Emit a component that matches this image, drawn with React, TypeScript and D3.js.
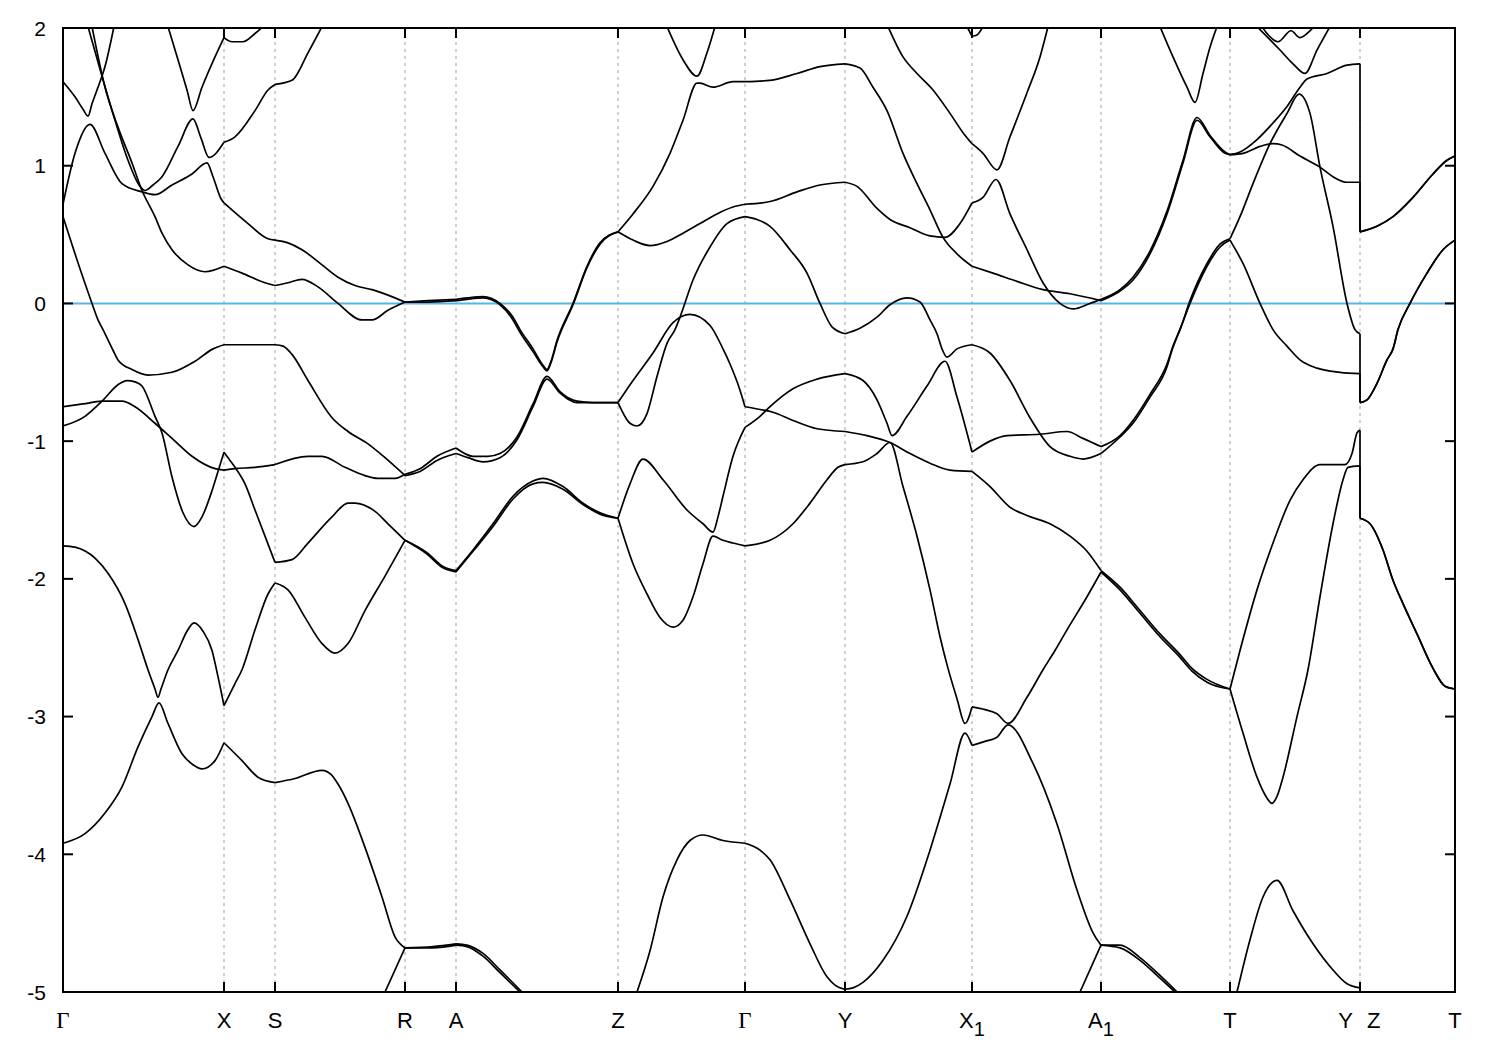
import React from "react";
import * as d3 from "d3";

type Pt = [number, number];

// ---- k-path (path-length units) and axis data ----
const kPathLabels = ["Γ", "X", "S", "R", "A", "Z", "Γ", "Y", "X1", "A1", "T", "Y|Z", "T"];
const kPathPositions = [0, 161, 212, 342, 393, 555, 682, 782, 909, 1038, 1167, 1297, 1392];
const energyTicks = [2, 1, 0, -1, -2, -3, -4, -5];
const energyDomain: [number, number] = [-5, 2];
const fermiLevel = 0;

// ---- bands (k, E in eV) ----
const band1a: Pt[] = [[0,-3.92],[22,-3.85],[42,-3.70],[59,-3.51],[75,-3.22],[89,-3.00],[96,-2.90],[105,-3.05],[119,-3.27],[130,-3.35],[139,-3.38],[152,-3.32],[161,-3.19],[179,-3.32],[195,-3.44],[212,-3.48],[232,-3.45],[259,-3.39],[268,-3.42],[275,-3.49],[285,-3.63],[302,-3.95],[319,-4.31],[332,-4.60],[342,-4.68],[370,-4.67],[393,-4.65],[404,-4.66],[420,-4.72],[437,-4.84],[459,-5.0]];
const band1b: Pt[] = [[574,-5.0],[587,-4.70],[600,-4.31],[614,-4.04],[627,-3.90],[640,-3.86],[660,-3.90],[682,-3.92],[697,-3.97],[707,-4.04],[727,-4.33],[747,-4.65],[764,-4.89],[772,-4.95],[782,-4.98],[790,-4.97],[800,-4.93],[820,-4.77],[844,-4.45],[867,-3.97],[887,-3.49],[902,-3.12],[909,-3.21],[922,-3.18],[934,-3.15],[945,-3.06],[970,-3.34],[994,-3.78],[1014,-4.26],[1030,-4.57],[1038,-4.66],[1057,-4.66],[1077,-4.75],[1097,-4.88],[1114,-5.0]];
const band1c: Pt[] = [[1174,-5.0],[1187,-4.62],[1200,-4.31],[1214,-4.19],[1230,-4.41],[1250,-4.65],[1270,-4.84],[1284,-4.94],[1297,-4.97]];
const band2a: Pt[] = [[322,-5.0],[342,-4.68],[370,-4.68],[393,-4.66],[404,-4.67],[420,-4.74],[437,-4.86],[457,-5.0]];
const band2b: Pt[] = [[1017,-5.0],[1038,-4.66],[1057,-4.68],[1077,-4.77],[1097,-4.90],[1112,-5.0]];

const band3: Pt[] = [[0,-1.76],[12,-1.77],[32,-1.85],[45,-1.96],[62,-2.18],[75,-2.44],[85,-2.66],[92,-2.80],[95,-2.86],[98,-2.80],[105,-2.66],[115,-2.52],[124,-2.38],[131,-2.32],[140,-2.38],[149,-2.52],[155,-2.71],[161,-2.92],[172,-2.76],[179,-2.66],[192,-2.37],[205,-2.11],[212,-2.03],[225,-2.08],[242,-2.28],[259,-2.47],[272,-2.54],[285,-2.47],[302,-2.23],[322,-1.98],[342,-1.72],[364,-1.81],[380,-1.91],[393,-1.94],[410,-1.79],[430,-1.60],[450,-1.40],[470,-1.29],[480,-1.27],[500,-1.33],[520,-1.45],[537,-1.52],[555,-1.56],[570,-1.89],[584,-2.11],[597,-2.28],[610,-2.35],[620,-2.30],[630,-2.13],[640,-1.89],[650,-1.69],[660,-1.72],[670,-1.74],[682,-1.76],[707,-1.72],[730,-1.60],[747,-1.45],[764,-1.28],[775,-1.19],[782,-1.17],[800,-1.15],[814,-1.09],[827,-1.01],[840,-1.33],[854,-1.69],[867,-2.08],[877,-2.42],[885,-2.65],[894,-2.87],[902,-3.05],[909,-2.93],[922,-2.95],[934,-2.98],[945,-3.05],[964,-2.86],[980,-2.66],[992,-2.52],[1004,-2.37],[1024,-2.13],[1038,-1.95],[1057,-2.08],[1077,-2.25],[1097,-2.42],[1117,-2.57],[1129,-2.67],[1144,-2.75],[1167,-2.80],[1177,-2.52],[1194,-2.08],[1210,-1.74],[1227,-1.43],[1240,-1.28],[1257,-1.17],[1270,-1.17],[1282,-1.17],[1289,-1.09],[1294,-0.94],[1297,-0.92],[1297,-1.56],[1307,-1.60],[1320,-1.79],[1330,-2.01],[1340,-2.18],[1354,-2.40],[1370,-2.65],[1382,-2.78],[1392,-2.80]];

const band4: Pt[] = [[0,-0.89],[22,-0.82],[39,-0.71],[55,-0.59],[64,-0.56],[72,-0.57],[79,-0.60],[92,-0.82],[99,-0.94],[109,-1.26],[120,-1.52],[131,-1.62],[139,-1.55],[149,-1.36],[155,-1.22],[161,-1.08],[166,-1.13],[172,-1.19],[182,-1.31],[192,-1.50],[202,-1.69],[212,-1.88],[229,-1.86],[245,-1.74],[269,-1.55],[285,-1.45],[292,-1.45],[312,-1.51],[325,-1.60],[342,-1.72],[364,-1.82],[380,-1.92],[393,-1.95],[410,-1.80],[430,-1.62],[450,-1.42],[470,-1.31],[480,-1.30],[500,-1.35],[520,-1.46],[537,-1.53],[555,-1.56],[567,-1.31],[580,-1.13],[600,-1.28],[624,-1.50],[640,-1.60],[650,-1.66],[655,-1.55],[660,-1.40],[670,-1.11],[682,-0.90],[697,-0.82],[707,-0.75],[730,-0.62],[754,-0.55],[782,-0.51],[800,-0.56],[814,-0.70],[824,-0.87],[829,-0.96],[844,-0.82],[864,-0.60],[882,-0.42],[894,-0.68],[909,-1.08],[927,-1.00],[944,-0.96],[977,-0.95],[1004,-0.93],[1020,-0.98],[1038,-1.04],[1057,-0.96],[1070,-0.85],[1087,-0.66],[1104,-0.44],[1110,-0.31],[1118,-0.17],[1127,0.02],[1144,0.29],[1157,0.43],[1167,0.47],[1177,0.63],[1190,0.87],[1207,1.16],[1224,1.38],[1236,1.52],[1247,1.38],[1257,0.99],[1270,0.56],[1284,0.0],[1292,-0.19],[1297,-0.22],[1297,-0.72],[1304,-0.70],[1314,-0.58],[1324,-0.41],[1330,-0.33],[1335,-0.19],[1347,0.0],[1364,0.22],[1380,0.39],[1392,0.46]];

const band5: Pt[] = [[0,-0.75],[20,-0.73],[39,-0.71],[59,-0.71],[72,-0.75],[92,-0.87],[109,-0.98],[129,-1.11],[152,-1.20],[161,-1.21],[172,-1.20],[192,-1.19],[212,-1.17],[245,-1.11],[259,-1.11],[282,-1.19],[302,-1.25],[315,-1.27],[332,-1.27],[342,-1.24],[357,-1.20],[374,-1.11],[393,-1.05],[410,-1.11],[425,-1.11],[437,-1.09],[454,-0.97],[470,-0.73],[484,-0.53],[497,-0.64],[514,-0.71],[530,-0.72],[555,-0.72],[570,-0.56],[590,-0.36],[610,-0.14],[627,-0.08],[647,-0.16],[660,-0.33],[667,-0.44],[677,-0.63],[682,-0.75],[697,-0.77],[710,-0.79],[730,-0.85],[754,-0.91],[782,-0.93],[804,-0.96],[827,-1.01],[847,-1.09],[867,-1.16],[887,-1.21],[909,-1.22],[927,-1.33],[947,-1.48],[964,-1.54],[987,-1.60],[1007,-1.69],[1024,-1.80],[1038,-1.94],[1057,-2.06],[1077,-2.23],[1097,-2.40],[1117,-2.55],[1129,-2.65],[1144,-2.73],[1167,-2.80],[1180,-3.12],[1194,-3.44],[1203,-3.58],[1209,-3.63],[1214,-3.58],[1220,-3.44],[1234,-3.00],[1245,-2.66],[1257,-2.13],[1270,-1.60],[1280,-1.28],[1285,-1.19],[1297,-1.18],[1297,-1.56],[1307,-1.60],[1320,-1.79],[1330,-2.01],[1340,-2.18],[1354,-2.40],[1370,-2.65],[1382,-2.78],[1392,-2.80]];

const band6: Pt[] = [[0,0.63],[12,0.36],[29,0.0],[35,-0.12],[40,-0.19],[50,-0.34],[55,-0.41],[69,-0.48],[85,-0.52],[109,-0.50],[132,-0.42],[150,-0.33],[161,-0.30],[192,-0.30],[212,-0.30],[220,-0.31],[229,-0.37],[245,-0.56],[269,-0.83],[285,-0.93],[305,-1.02],[322,-1.12],[342,-1.25],[357,-1.22],[374,-1.14],[393,-1.09],[405,-1.12],[420,-1.15],[437,-1.12],[454,-0.99],[470,-0.75],[484,-0.55],[497,-0.65],[514,-0.72],[530,-0.72],[555,-0.72],[567,-0.87],[574,-0.89],[584,-0.80],[594,-0.53],[604,-0.29],[612,-0.19],[617,-0.10],[630,0.17],[647,0.41],[664,0.58],[682,0.63],[707,0.56],[727,0.39],[744,0.22],[757,0.0],[769,-0.17],[782,-0.22],[797,-0.18],[814,-0.10],[827,-0.01],[844,0.04],[857,0.01],[867,-0.12],[874,-0.22],[879,-0.33],[884,-0.39],[894,-0.33],[909,-0.30],[927,-0.36],[947,-0.56],[967,-0.83],[987,-1.04],[1007,-1.11],[1020,-1.13],[1038,-1.09],[1057,-0.97],[1070,-0.87],[1087,-0.68],[1104,-0.46],[1109,-0.34],[1117,-0.19],[1127,0.0],[1144,0.27],[1157,0.41],[1167,0.46],[1180,0.29],[1197,0.0],[1210,-0.19],[1224,-0.31],[1237,-0.41],[1254,-0.47],[1277,-0.50],[1297,-0.51],[1297,-0.72],[1304,-0.70],[1314,-0.58],[1324,-0.41],[1330,-0.33],[1335,-0.19],[1347,0.0],[1364,0.22],[1380,0.39],[1392,0.46]];

const band7: Pt[] = [[29,2.01],[42,1.57],[55,1.28],[69,1.02],[79,0.82],[92,0.63],[99,0.51],[109,0.39],[125,0.28],[142,0.23],[161,0.27],[179,0.22],[202,0.15],[212,0.13],[225,0.15],[239,0.175],[255,0.12],[275,0.0],[299,-0.12],[309,-0.12],[325,-0.05],[342,0.01],[365,0.01],[393,0.02],[404,0.03],[420,0.04],[437,-0.01],[450,-0.12],[457,-0.21],[470,-0.35],[480,-0.46],[484,-0.49],[488,-0.43],[494,-0.28],[510,-0.01],[524,0.26],[537,0.43],[555,0.52],[570,0.46],[587,0.42],[604,0.45],[620,0.51],[637,0.58],[654,0.65],[670,0.70],[682,0.72],[707,0.74],[734,0.81],[757,0.86],[782,0.88],[794,0.85],[814,0.69],[827,0.61],[847,0.55],[867,0.49],[882,0.48],[897,0.58],[909,0.73],[920,0.77],[933,0.90],[947,0.65],[964,0.39],[980,0.15],[997,0.0],[1010,-0.04],[1027,0.0],[1038,0.03],[1057,0.10],[1070,0.19],[1087,0.38],[1104,0.67],[1120,1.04],[1134,1.35],[1147,1.22],[1162,1.10],[1167,1.08],[1180,1.09],[1197,1.14],[1210,1.16],[1219,1.15],[1237,1.07],[1257,0.99],[1270,0.92],[1284,0.88],[1297,0.88],[1297,0.52],[1314,0.56],[1330,0.63],[1350,0.77],[1370,0.94],[1384,1.04],[1392,1.07]];

const band8: Pt[] = [[0,0.72],[12,1.09],[27,1.30],[42,1.09],[59,0.87],[79,0.81],[92,0.79],[109,0.86],[129,0.94],[144,1.02],[150,0.92],[158,0.76],[161,0.73],[185,0.58],[205,0.47],[212,0.46],[225,0.44],[239,0.39],[259,0.28],[275,0.19],[292,0.13],[309,0.10],[325,0.06],[342,0.01],[365,0.02],[393,0.03],[404,0.04],[420,0.05],[437,0.0],[450,-0.10],[457,-0.19],[470,-0.33],[480,-0.45],[484,-0.48],[488,-0.42],[494,-0.27],[510,0.0],[524,0.27],[537,0.44],[555,0.52],[570,0.65],[590,0.85],[607,1.09],[620,1.33],[634,1.60],[637,1.60],[650,1.57],[670,1.61],[682,1.61],[707,1.62],[734,1.67],[757,1.72],[782,1.74],[797,1.71],[810,1.57],[824,1.40],[840,1.09],[854,0.87],[867,0.68],[880,0.48],[894,0.36],[909,0.27],[930,0.22],[954,0.16],[980,0.10],[1007,0.07],[1038,0.02],[1057,0.09],[1070,0.17],[1087,0.36],[1104,0.65],[1120,1.02],[1134,1.33],[1147,1.21],[1162,1.09],[1167,1.08],[1177,1.10],[1194,1.19],[1210,1.31],[1224,1.43],[1237,1.57],[1244,1.63],[1264,1.67],[1284,1.73],[1297,1.74],[1297,0.52],[1314,0.56],[1330,0.63],[1350,0.77],[1370,0.94],[1384,1.04],[1392,1.07]];

const upper1: Pt[] = [[0,1.61],[12,1.50],[20,1.41],[25,1.36],[29,1.45],[34,1.55],[42,1.72],[51,2.01]];
const upper2: Pt[] = [[25,2.01],[39,1.65],[52,1.33],[65,1.04],[77,0.85],[82,0.82],[90,0.86],[99,0.92],[115,1.14],[130,1.34],[138,1.20],[146,1.06],[161,1.17],[172,1.21],[192,1.40],[205,1.55],[212,1.59],[229,1.62],[245,1.82],[259,2.01]];
const upper3: Pt[] = [[105,2.01],[115,1.77],[124,1.55],[130,1.40],[139,1.57],[152,1.79],[161,1.93],[169,1.90],[180,1.90],[192,1.96],[200,2.01]];
const upper4: Pt[] = [[604,2.01],[620,1.77],[634,1.65],[644,1.82],[652,2.01]];
const upper5: Pt[] = [[825,2.01],[840,1.79],[854,1.67],[870,1.55],[887,1.38],[900,1.24],[909,1.16],[920,1.09],[934,0.97],[947,1.21],[964,1.53],[977,1.79],[985,2.01]];
const upper6: Pt[] = [[904,2.01],[909,1.94],[914,1.95],[920,2.01]];
const upper7: Pt[] = [[1097,2.01],[1110,1.79],[1124,1.57],[1132,1.46],[1140,1.67],[1147,1.86],[1154,2.01]];
const upper8: Pt[] = [[1194,2.01],[1217,1.84],[1230,1.74],[1242,1.67],[1254,1.84],[1267,2.01]];
const upper9: Pt[] = [[1199,2.01],[1204,1.96],[1215,1.90],[1228,1.98],[1237,1.93],[1247,1.98],[1251,2.01]];

const allBands: Pt[][] = [band1a, band1b, band1c, band2a, band2b, band3, band4, band5, band6, band7, band8, upper1, upper2, upper3, upper4, upper5, upper6, upper7, upper8, upper9];

// ---- rendering ----
const symSet = new Set(kPathPositions);

function splitBand(pts: Pt[]) {
  const pieces: Pt[][] = [];
  const verticals: [Pt, Pt][] = [];
  let cur: Pt[] = [pts[0]];
  for (let i = 1; i < pts.length; i++) {
    const p = pts[i];
    const prev = pts[i - 1];
    if (p[0] === prev[0]) {
      pieces.push(cur);
      verticals.push([prev, p]);
      cur = [p];
      continue;
    }
    cur.push(p);
    if (symSet.has(p[0]) && i < pts.length - 1 && pts[i + 1][0] !== p[0]) {
      pieces.push(cur);
      cur = [p];
    }
  }
  pieces.push(cur);
  return { pieces: pieces.filter((q) => q.length > 1), verticals };
}

const FONT = "'Liberation Sans', Arial, Helvetica, sans-serif";
const SERIF = "'Liberation Serif', 'Times New Roman', serif";

export default function App() {
  const W = 1500;
  const H = 1050;
  const left = 63, right = 1455, top = 28, bottom = 992;
  const kExtent = d3.extent(kPathPositions) as [number, number];
  const x = d3.scaleLinear().domain(kExtent).range([left, right]);
  const y = d3.scaleLinear().domain(energyDomain).range([bottom, top]);
  const line = d3
    .line<Pt>()
    .x((d) => x(d[0]))
    .y((d) => y(d[1]))
    .curve(d3.curveMonotoneX);
  const straight = d3
    .line<Pt>()
    .x((d) => x(d[0]))
    .y((d) => y(d[1]));

  const paths: string[] = [];
  const verts: string[] = [];
  allBands.forEach((b) => {
    const { pieces, verticals } = splitBand(b);
    pieces.forEach((p) => paths.push(line(p) || ""));
    verticals.forEach((v) => verts.push(straight(v) || ""));
  });

  const interior = kPathPositions.filter((k, i) => i > 0 && i < kPathPositions.length - 1);
  const labelY = 1028;

  const renderLabel = (lab: string, k: number, i: number) => {
    const cx = x(k);
    if (lab === "Γ") {
      return (
        <text key={i} x={cx} y={labelY} textAnchor="middle" fontFamily={SERIF} fontSize={23}>
          Γ
        </text>
      );
    }
    if (lab === "Y|Z") {
      return (
        <g key={i}>
          <text x={cx - 7} y={labelY} textAnchor="end" fontFamily={FONT} fontSize={22}>Y</text>
          <text x={cx + 7} y={labelY} textAnchor="start" fontFamily={FONT} fontSize={22}>Z</text>
        </g>
      );
    }
    if (lab.endsWith("1") && lab.length === 2) {
      return (
        <text key={i} x={cx} y={labelY} textAnchor="middle" fontFamily={FONT} fontSize={22}>
          {lab[0]}
          <tspan dy={8} fontSize={20}>1</tspan>
        </text>
      );
    }
    return (
      <text key={i} x={cx} y={labelY} textAnchor="middle" fontFamily={FONT} fontSize={22}>
        {lab}
      </text>
    );
  };

  return (
    <svg
      width={W}
      height={H}
      style={{ position: "absolute", left: 0, top: 0, background: "#fff" }}
      xmlns="http://www.w3.org/2000/svg"
    >
      <defs>
        <clipPath id="plotClip">
          <rect x={left} y={top} width={right - left} height={bottom - top} />
        </clipPath>
      </defs>
      <rect x={0} y={0} width={W} height={H} fill="#fff" />
      {/* vertical dashed lines at high-symmetry points */}
      {interior.map((k, i) => (
        <line
          key={"g" + i}
          x1={x(k)}
          x2={x(k)}
          y1={top}
          y2={bottom}
          stroke="#a0a0a0"
          strokeWidth={1}
          strokeDasharray="3,4"
        />
      ))}
      {/* Fermi level */}
      <line x1={left} x2={right} y1={y(fermiLevel)} y2={y(fermiLevel)} stroke="#56b4e9" strokeWidth={2} />
      <g clipPath="url(#plotClip)" fill="none" stroke="#000" strokeWidth={1.7} strokeLinejoin="round">
        {paths.map((d, i) => (
          <path key={"b" + i} d={d} />
        ))}
        {verts.map((d, i) => (
          <path key={"v" + i} d={d} />
        ))}
      </g>
      {/* ticks */}
      {energyTicks.map((e, i) => (
        <g key={"yt" + i}>
          <line x1={left} x2={left + 10} y1={y(e)} y2={y(e)} stroke="#000" strokeWidth={2} />
          <line x1={right - 10} x2={right} y1={y(e)} y2={y(e)} stroke="#000" strokeWidth={2} />
          <text
            x={left - 17}
            y={y(e)}
            dy="0.36em"
            textAnchor="end"
            fontFamily={FONT}
            fontSize={21}
          >
            {e}
          </text>
        </g>
      ))}
      {interior.map((k, i) => (
        <g key={"xt" + i}>
          <line x1={x(k)} x2={x(k)} y1={top} y2={top + 10} stroke="#000" strokeWidth={2} />
          <line x1={x(k)} x2={x(k)} y1={bottom - 10} y2={bottom} stroke="#000" strokeWidth={2} />
        </g>
      ))}
      {/* frame */}
      <rect x={left} y={top} width={right - left} height={bottom - top} fill="none" stroke="#000" strokeWidth={2} />
      {kPathLabels.map((lab, i) => renderLabel(lab, kPathPositions[i], i))}
    </svg>
  );
}
